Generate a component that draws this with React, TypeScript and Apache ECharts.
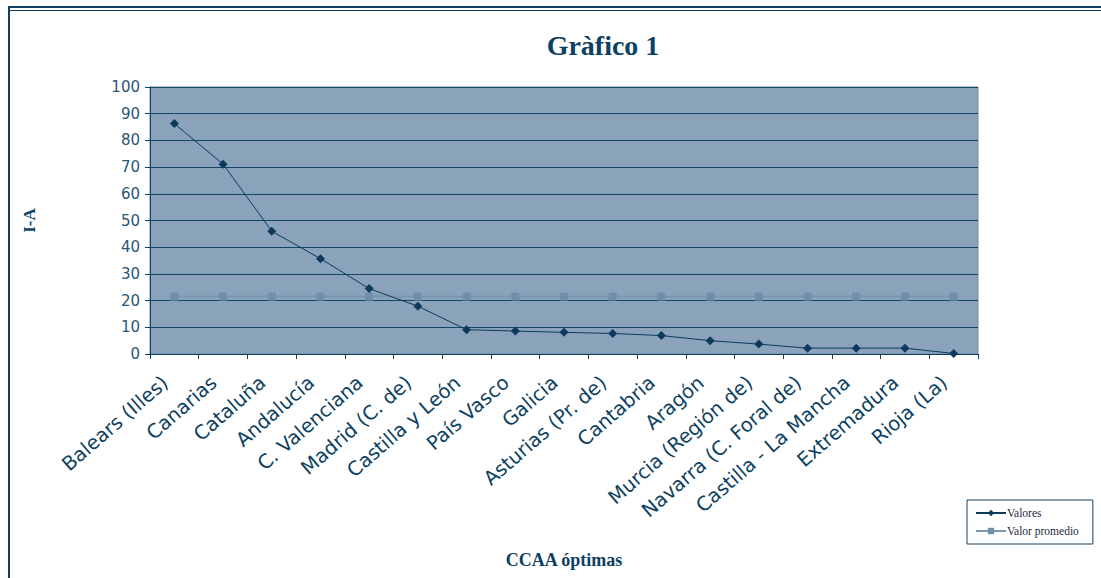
import React, { useEffect, useRef } from "react";
import * as echarts from "echarts";

const categories = [
  "Balears (Illes)",
  "Canarias",
  "Cataluña",
  "Andalucía",
  "C. Valenciana",
  "Madrid (C. de)",
  "Castilla y León",
  "País Vasco",
  "Galicia",
  "Asturias (Pr. de)",
  "Cantabria",
  "Aragón",
  "Murcia (Región de)",
  "Navarra (C. Foral de)",
  "Castilla - La Mancha",
  "Extremadura",
  "Rioja (La)",
];

const valores = [86.3, 71.1, 46.0, 35.7, 24.5, 17.9, 9.1, 8.6, 8.1, 7.7, 6.9, 5.0, 3.7, 2.2, 2.2, 2.2, 0.2];

const valorPromedio = [21.5, 21.5, 21.5, 21.5, 21.5, 21.5, 21.5, 21.5, 21.5, 21.5, 21.5, 21.5, 21.5, 21.5, 21.5, 21.5, 21.5];

const yTicks = [0, 100, 10];

const dark = "#0d3f62";

export default function App() {
  const ref = useRef<HTMLDivElement>(null);
  useEffect(() => {
    document.body.style.margin = "0";
    const chart = echarts.init(ref.current!, undefined, { renderer: "svg" });
    chart.setOption({
      animation: false,
      backgroundColor: "#ffffff",
      title: {
        text: "Gràfico 1",
        left: 598,
        textAlign: "center",
        top: 26,
        textStyle: {
          fontFamily: "Liberation Serif",
          fontWeight: "bold",
          fontSize: 28,
          color: dark,
        },
      },
      graphic: [
        { type: "rect", shape: { x: 8, y: 6, width: 1093, height: 2 }, style: { fill: dark } },
        { type: "rect", shape: { x: 10, y: 10, width: 1091, height: 1 }, style: { fill: dark } },
        { type: "rect", shape: { x: 8, y: 6, width: 2, height: 572 }, style: { fill: dark } },
      ],
      legend: {
        orient: "vertical",
        left: 967,
        top: 500,
        borderColor: "#1a3e5a",
        borderWidth: 1,
        padding: [7, 14, 7, 8],
        itemGap: 6,
        itemWidth: 30,
        itemHeight: 8,
        textStyle: { fontFamily: "Liberation Serif", fontSize: 11.5, color: "#1a2a3a", padding: [0, 0, 0, -4] },
        data: ["Valores", "Valor promedio"],
      },
      grid: {
        left: 150,
        right: 123,
        top: 87,
        bottom: 224,
        show: true,
        backgroundColor: "#8aa3ba",
        borderColor: "#6d8daa",
        borderWidth: 1,
      },
      xAxis: {
        type: "category",
        data: categories,
        boundaryGap: true,
        name: "CCAA óptimas",
        nameLocation: "middle",
        nameGap: 197,
        nameTextStyle: {
          fontFamily: "Liberation Serif",
          fontWeight: "bold",
          fontSize: 18,
          color: dark,
        },
        axisLine: { lineStyle: { color: dark, width: 1 } },
        axisTick: { show: true, alignWithLabel: false, length: 5, lineStyle: { color: dark } },
        axisLabel: {
          interval: 0,
          rotate: 41,
          margin: 18,
          padding: [0, 12, 0, 0],
          fontFamily: "DejaVu Sans",
          fontSize: 19.5,
          color: dark,
        },
      },
      yAxis: {
        type: "value",
        min: yTicks[0],
        max: yTicks[1],
        interval: yTicks[2],
        name: "I-A",
        nameLocation: "middle",
        nameRotate: 90,
        nameGap: 112,
        nameTextStyle: {
          fontFamily: "Liberation Serif",
          fontWeight: "bold",
          fontSize: 17,
          color: dark,
        },
        axisLine: { show: true, lineStyle: { color: dark, width: 1 } },
        axisTick: { show: true, length: 5, lineStyle: { color: dark } },
        axisLabel: {
          margin: 10,
          fontFamily: "DejaVu Sans",
          fontSize: 15,
          color: "#2a5676",
        },
        splitLine: { show: true, lineStyle: { color: "#124768", width: 1 } },
      },
      series: [
        {
          name: "Valor promedio",
          type: "line",
          data: valorPromedio,
          symbol: "rect",
          symbolSize: 8,
          itemStyle: { color: "#6f8eab" },
          lineStyle: { color: "#7a97b2", width: 2 },
          z: 2,
        },
        {
          name: "Valores",
          type: "line",
          data: valores,
          symbol: "diamond",
          symbolSize: 9,
          itemStyle: { color: "#0b3a5c" },
          lineStyle: { color: "#0b3a5c", width: 1 },
          z: 3,
        },
      ],
    });
    return () => chart.dispose();
  }, []);
  return <div ref={ref} style={{ width: 1101, height: 578 }} />;
}
